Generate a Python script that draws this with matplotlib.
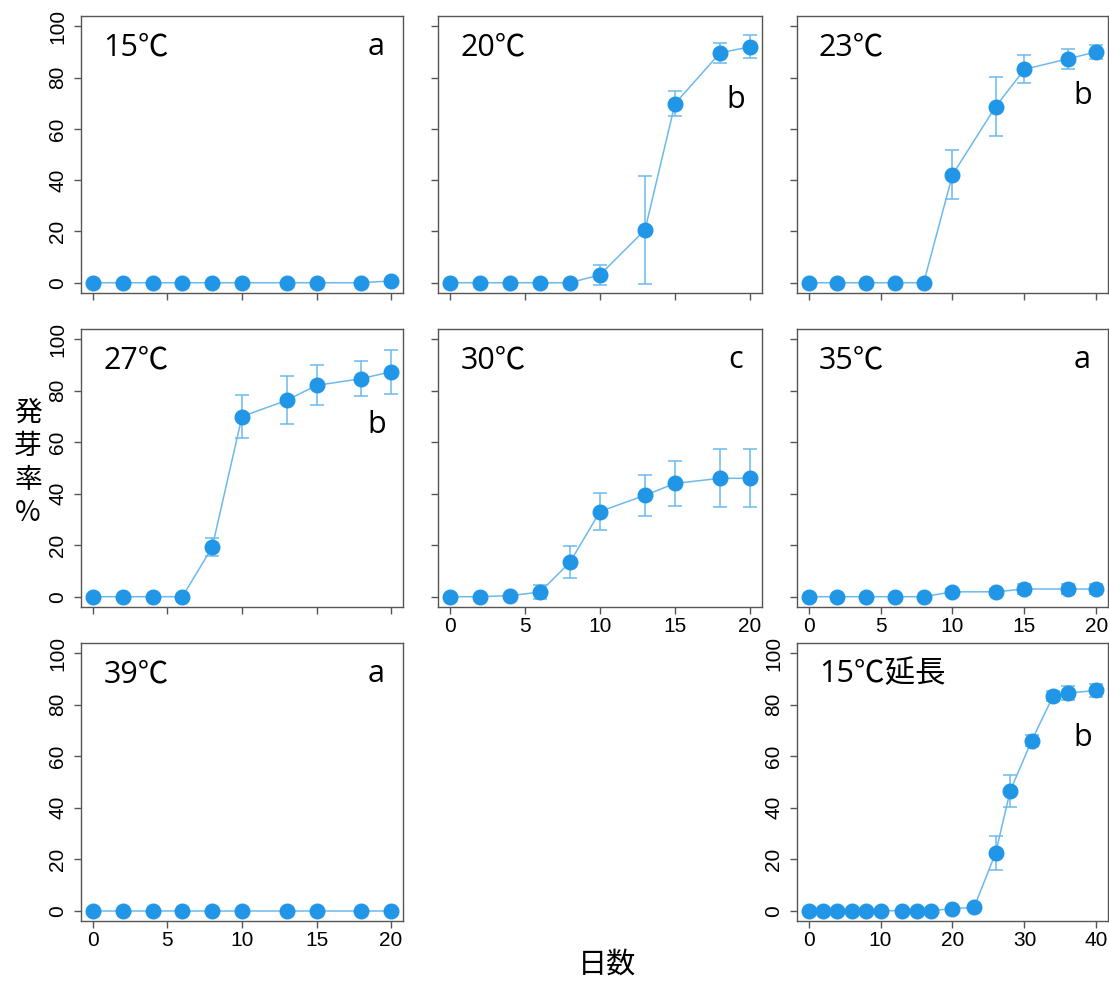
import numpy as np
import matplotlib.pyplot as plt

plt.rcParams['font.family'] = ['Liberation Sans', 'DejaVu Sans']

# days of observation
days = [0, 2, 4, 6, 8, 10, 13, 15, 18, 20]
days_long = [0, 2, 4, 6, 8, 10, 13, 15, 17, 20, 23, 26, 28, 31, 34, 36, 40]

# mean germination (%) and error
g15 = [0, 0, 0, 0, 0, 0, 0, 0, 0, 0.7]
e15 = [0, 0, 0, 0, 0, 0, 0, 0, 0, 0]
g20 = [0, 0, 0, 0, 0, 3.1, 20.6, 69.8, 89.6, 92.0]
e20 = [0, 0, 0, 0, 0, 4.0, 21.2, 4.8, 3.8, 4.5]
g23 = [0, 0, 0, 0, 0, 42.1, 68.7, 83.2, 87.3, 90.0]
e23 = [0, 0, 0, 0, 0, 9.5, 11.5, 5.4, 4.0, 2.7]
g27 = [0, 0, 0, 0, 19.2, 70.0, 76.3, 82.1, 84.7, 87.4]
e27 = [0, 0, 0, 0, 3.5, 8.4, 9.3, 7.8, 6.8, 8.6]
g30 = [0, 0, 0.4, 1.8, 13.4, 33.1, 39.4, 44.0, 46.0, 46.0]
e30 = [0, 0, 0, 2.7, 6.3, 7.0, 7.9, 8.9, 11.3, 11.3]
g35 = [0, 0, 0, 0, 0, 1.9, 1.9, 3.0, 3.0, 3.0]
e35 = [0, 0, 0, 0, 0, 1.0, 1.0, 2.0, 2.0, 2.0]
g39 = [0, 0, 0, 0, 0, 0, 0, 0, 0, 0]
e39 = [0, 0, 0, 0, 0, 0, 0, 0, 0, 0]
g15L = [0, 0, 0, 0, 0, 0, 0, 0, 0, 0.8, 1.3, 22.5, 46.4, 66.1, 83.5, 84.5, 85.6]
e15L = [0, 0, 0, 0, 0, 0, 0, 0, 0, 0, 0, 6.7, 6.3, 2.3, 2.0, 2.8, 2.5]

titles = ['15℃', '20℃', '23℃', '27℃', '30℃', '35℃', '39℃', '15℃延長']
letters = ['a', 'b', 'b', 'b', 'c', 'a', 'a', 'b']
letter_y = [0.888, 0.697, 0.71, 0.653, 0.888, 0.888, 0.888, 0.657]

W, H = 1109, 981
cols = [(81, 403), (438, 762), (797, 1108)]
rows = [(16, 293), (329, 607), (643, 921)]

panels = [
    (0, 0, days, g15, e15), (0, 1, days, g20, e20), (0, 2, days, g23, e23),
    (1, 0, days, g27, e27), (1, 1, days, g30, e30), (1, 2, days, g35, e35),
    (2, 0, days, g39, e39), (2, 2, days_long, g15L, e15L),
]
xlab_on = [False, False, False, False, True, True, True, True]
ylab_on = [True, False, False, True, False, False, True, True]

line_c = '#6cb9ee'
mark_c = '#2196e6'
txt_font = ['Open Sans', 'Noto Sans CJK JP']

fig = plt.figure(figsize=(W / 100, H / 100), dpi=100)

for i, (r, c, x, y, e) in enumerate(panels):
    x0, x1 = cols[c]
    y0, y1 = rows[r]
    ax = fig.add_axes([x0 / W, 1 - y1 / H, (x1 - x0) / W, (y1 - y0) / H])
    ax.errorbar(x, y, yerr=e, color=line_c, lw=1.1, elinewidth=1.1,
                capsize=5, capthick=1.1, marker='o', ms=10.5,
                mfc=mark_c, mec=mark_c, zorder=3)
    xmax = x[-1]
    ax.set_xlim(-0.04 * xmax, 1.04 * xmax)
    ax.set_ylim(-4, 104)
    ax.set_yticks([0, 20, 40, 60, 80, 100])
    ax.set_xticks(np.arange(0, xmax + 1, xmax // 4))
    for s in ax.spines.values():
        s.set_color('#555555')
        s.set_linewidth(1.0)
    ax.tick_params(length=5, width=1.0, color='#555555', labelsize=15,
                   labelbottom=xlab_on[i], labelleft=ylab_on[i])
    ax.tick_params(axis='x', pad=2)
    ax.tick_params(axis='y', pad=5)
    for lab in ax.get_yticklabels():
        lab.set_rotation(90)
        lab.set_va('center')
    ax.text(0.07, 0.888, titles[i], transform=ax.transAxes, fontsize=22,
            va='center', ha='left', family=txt_font)
    ax.text(0.918, letter_y[i], letters[i], transform=ax.transAxes,
            fontsize=22, va='center', ha='center', family=txt_font)

fig.text(28 / W, 1 - 463 / H, '発\n芽\n率\n%', fontsize=20, ha='center',
         va='center', linespacing=1.15, family=['Noto Sans CJK JP'])
fig.text(607 / W, 1 - 965 / H, '日数', fontsize=21, ha='center',
         va='center', family=['Noto Sans CJK JP'])

fig.savefig('out.png', dpi=100)
